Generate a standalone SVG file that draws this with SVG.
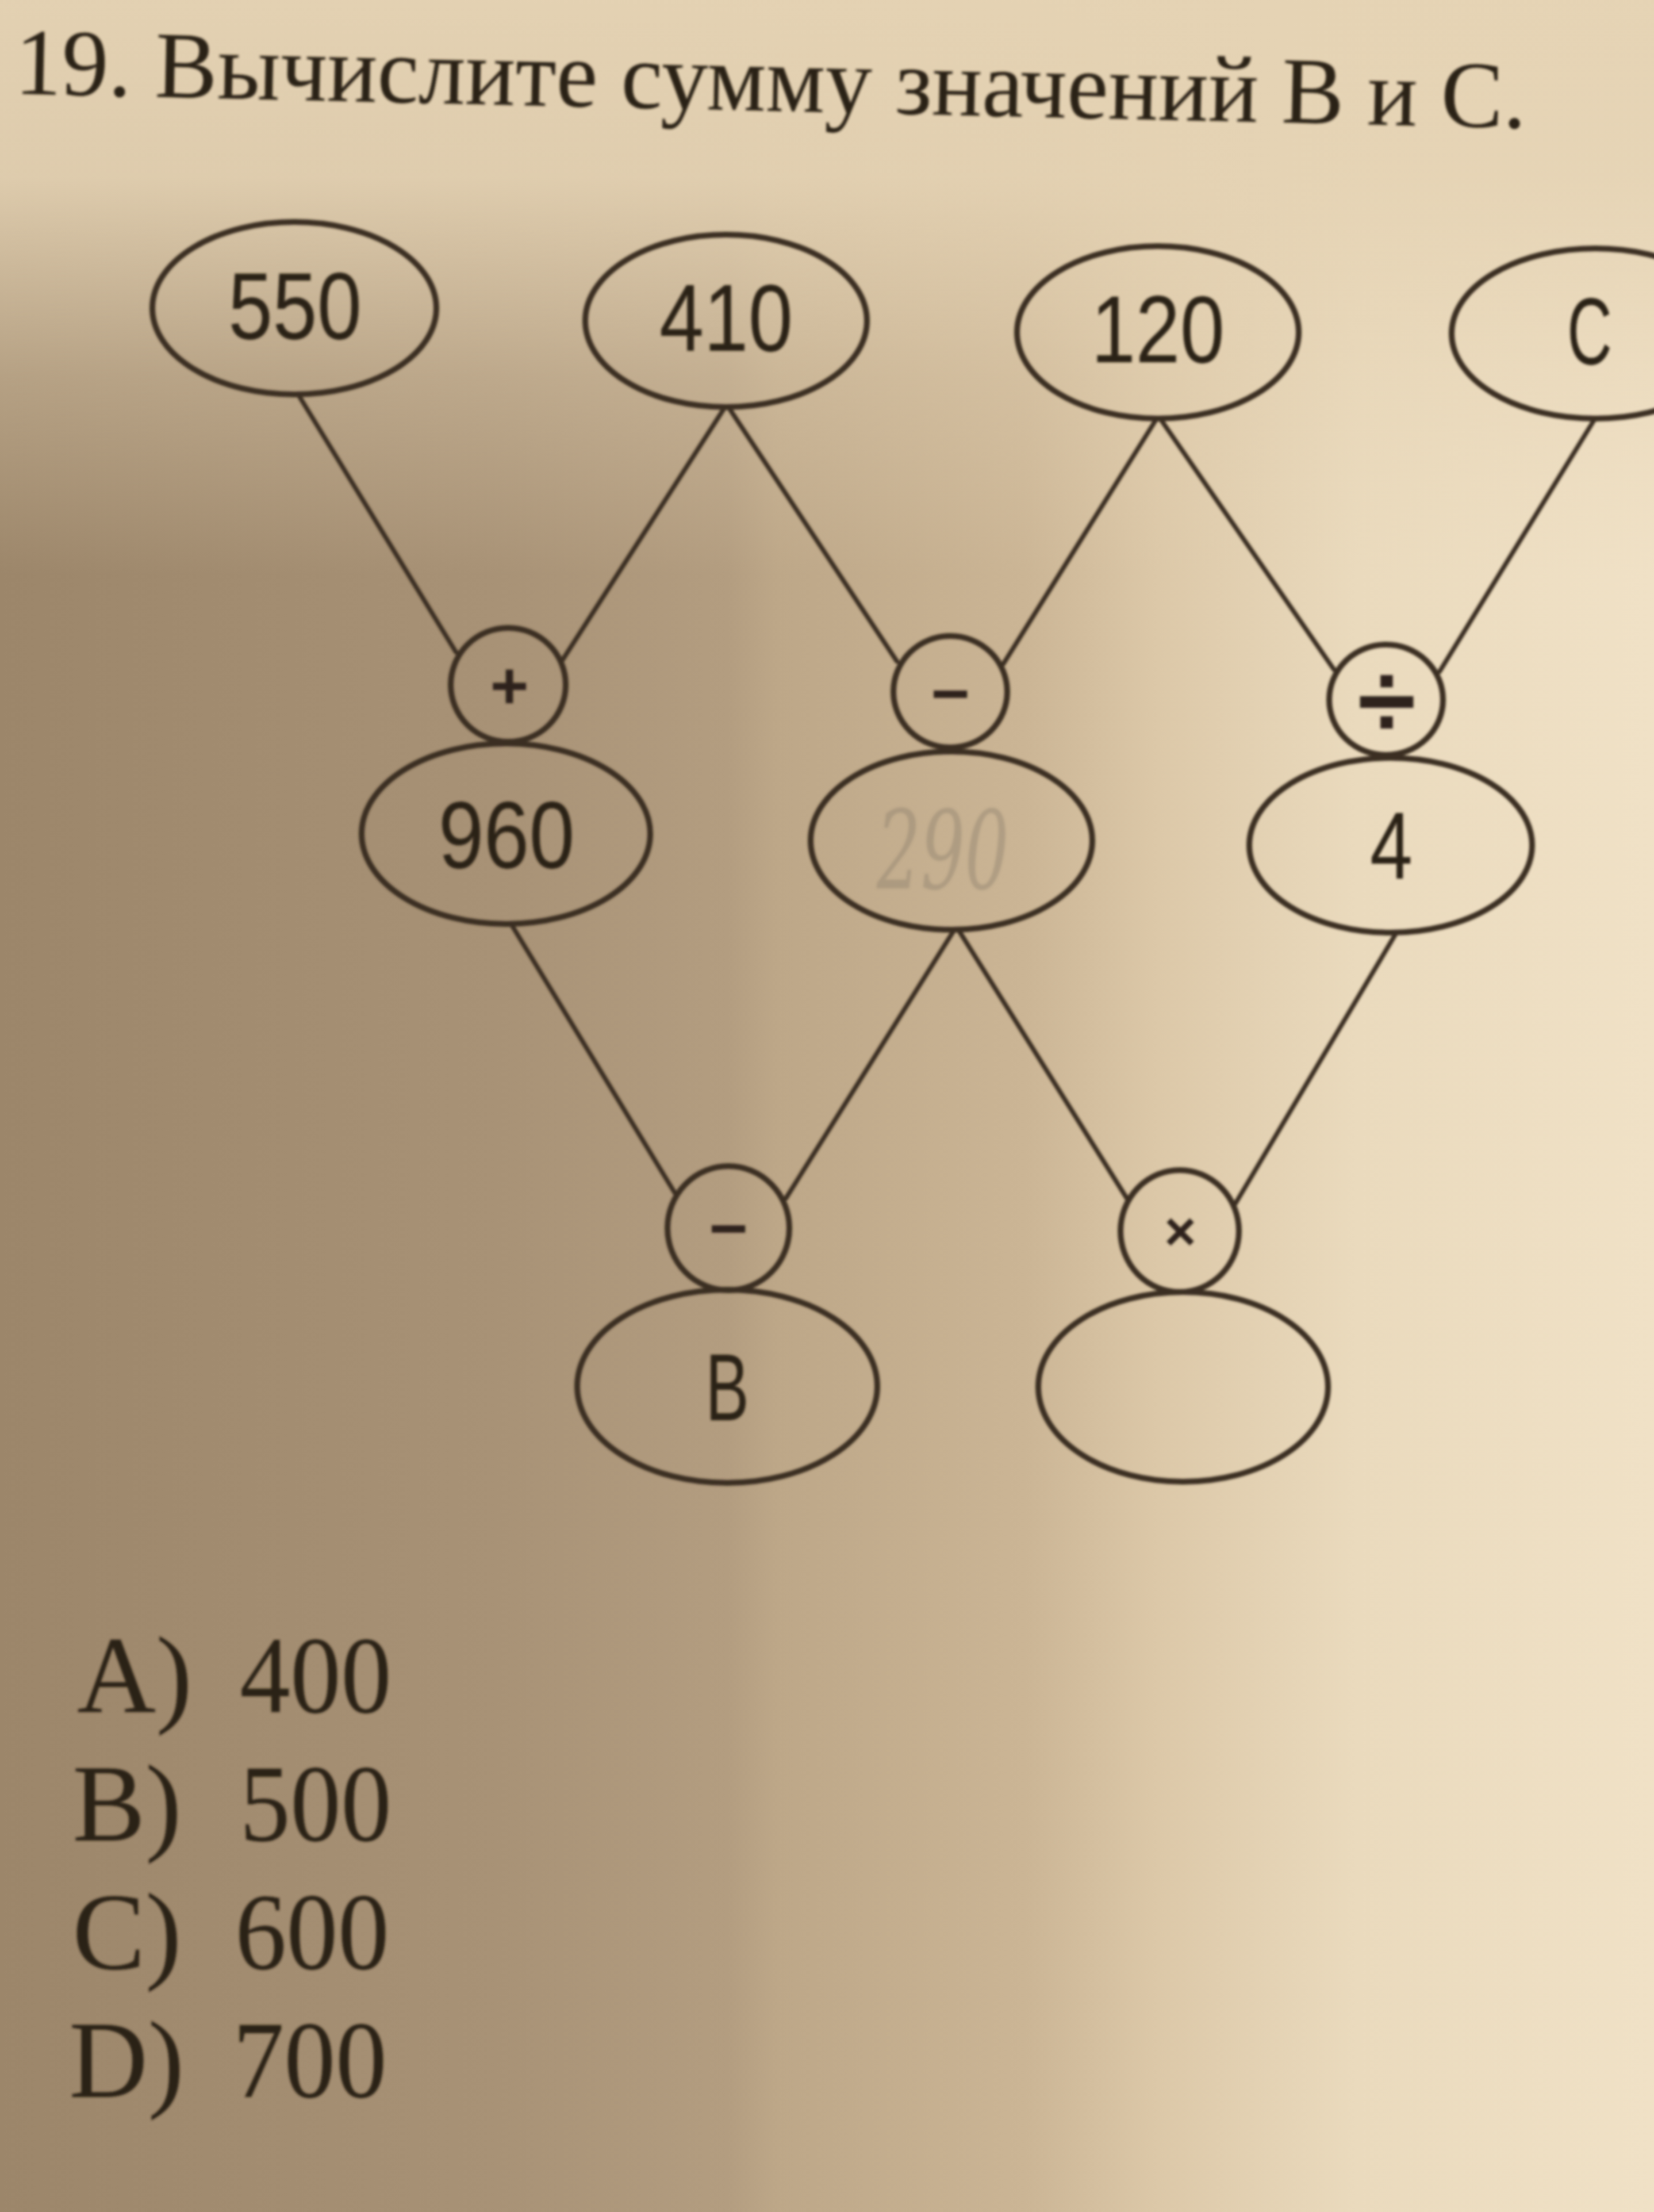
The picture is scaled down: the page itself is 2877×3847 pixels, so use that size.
<svg xmlns="http://www.w3.org/2000/svg" width="2877" height="3847" viewBox="0 0 2877 3847">
<defs>
<linearGradient id="paperH" x1="0" y1="0" x2="1" y2="0">
<stop offset="0" stop-color="#9c866a"/>
<stop offset="0.3" stop-color="#a89276"/>
<stop offset="0.44" stop-color="#b39d80"/>
<stop offset="0.47" stop-color="#bda788"/>
<stop offset="0.62" stop-color="#cbb595"/>
<stop offset="0.7" stop-color="#dcc8a8"/>
<stop offset="0.82" stop-color="#eadabd"/>
<stop offset="1" stop-color="#f0e1c6"/>
</linearGradient>
<linearGradient id="paperTop" x1="0" y1="0" x2="0" y2="1">
<stop offset="0" stop-color="#e5d3b4" stop-opacity="0.97"/>
<stop offset="0.08" stop-color="#e5d3b4" stop-opacity="0.9"/>
<stop offset="0.17" stop-color="#e5d3b4" stop-opacity="0.35"/>
<stop offset="0.26" stop-color="#e5d3b4" stop-opacity="0"/>
</linearGradient>
<filter id="soft" x="-5%" y="-5%" width="110%" height="110%">
<feGaussianBlur stdDeviation="2"/>
</filter>
<style>
.node { fill: none; stroke: #3b2e21; stroke-width: 10; }
.edge { stroke: #3b2e21; stroke-width: 8; stroke-linecap: round; fill: none; }
.num { font-family: "Liberation Sans", "DejaVu Sans", sans-serif; font-size: 165px; fill: #2a2017; text-anchor: middle; }
.op { font-family: "Liberation Sans", "DejaVu Sans", sans-serif; font-weight: bold; fill: #2e241a; text-anchor: middle; }
.serif { font-family: "Liberation Serif", "Noto Sans CJK SC", serif; fill: #2a2017; }
.hand { font-family: "DejaVu Serif", serif; font-style: italic; font-size: 190px; fill: #8a7d6c; fill-opacity: 0.4; text-anchor: middle; }
</style>
</defs>
<rect x="0" y="0" width="2877" height="3847" fill="url(#paperH)"/>
<rect x="0" y="0" width="2877" height="3847" fill="url(#paperTop)"/>

<g filter="url(#soft)">
<text id="title" class="serif" x="25" y="163" font-size="165" textLength="2630" lengthAdjust="spacingAndGlyphs" transform="rotate(1.3 25 163)">19. Вычислите сумму значений B и C.</text>

<g id="connectors">
<line class="edge" x1="518" y1="685" x2="793" y2="1134"/>
<line class="edge" x1="1261" y1="708" x2="979" y2="1147"/>
<line class="edge" x1="1267" y1="708" x2="1560" y2="1150"/>
<line class="edge" x1="2012" y1="728" x2="1745" y2="1155"/>
<line class="edge" x1="2018" y1="728" x2="2320" y2="1164"/>
<line class="edge" x1="2775" y1="727" x2="2504" y2="1168"/>
<line class="edge" x1="889" y1="1607" x2="1174" y2="2075"/>
<line class="edge" x1="1660" y1="1617" x2="1367" y2="2084"/>
<line class="edge" x1="1667" y1="1617" x2="1960" y2="2084"/>
<line class="edge" x1="2429" y1="1622" x2="2149" y2="2093"/>
</g>

<g id="n550"><ellipse class="node" cx="512" cy="536" rx="247" ry="150"/><text class="num" x="513" y="589" textLength="232" lengthAdjust="spacingAndGlyphs">550</text></g>
<g id="n410"><ellipse class="node" cx="1263" cy="558" rx="245" ry="150"/><text class="num" x="1263" y="610" textLength="232" lengthAdjust="spacingAndGlyphs">410</text></g>
<g id="n120"><ellipse class="node" cx="2014" cy="578" rx="245" ry="150"/><text class="num" x="2014" y="630" textLength="232" lengthAdjust="spacingAndGlyphs">120</text></g>
<g id="nC"><ellipse class="node" cx="2775" cy="580" rx="250" ry="148"/><text class="num" x="2765" y="633" textLength="78" lengthAdjust="spacingAndGlyphs">C</text></g>

<g id="opPlus"><ellipse class="node" cx="884" cy="1191" rx="100" ry="99"/><text class="op" x="886" y="1232" font-size="115">+</text></g>
<g id="opMinus1"><ellipse class="node" cx="1653" cy="1203" rx="99" ry="97"/><text class="op" x="1653" y="1246" font-size="116">−</text></g>
<g id="opDiv"><ellipse class="node" cx="2411" cy="1217" rx="99" ry="96"/><text class="op" x="2412" y="1282" font-size="185">÷</text></g>

<g id="n960"><ellipse class="node" cx="880" cy="1450" rx="251" ry="157"/><text class="num" x="881" y="1509" textLength="237" lengthAdjust="spacingAndGlyphs">960</text></g>
<g id="n290"><ellipse class="node" cx="1655" cy="1462" rx="245" ry="155"/><text class="hand" x="1640" y="1545" textLength="230" lengthAdjust="spacingAndGlyphs">290</text></g>
<g id="n4"><ellipse class="node" cx="2419" cy="1470" rx="246" ry="152"/><text class="num" x="2420" y="1528" textLength="74" lengthAdjust="spacingAndGlyphs">4</text></g>

<g id="opMinus2"><ellipse class="node" cx="1267" cy="2136" rx="106" ry="108"/><text class="op" x="1267" y="2176" font-size="116">−</text></g>
<g id="opTimes"><ellipse class="node" cx="2052" cy="2141" rx="103" ry="106"/><text class="op" x="2053" y="2174" font-size="95">×</text></g>

<g id="nB"><ellipse class="node" cx="1265" cy="2411" rx="261" ry="168"/><text class="num" x="1265" y="2470" textLength="76" lengthAdjust="spacingAndGlyphs">B</text></g>
<g id="nEmpty"><ellipse class="node" cx="2058" cy="2412" rx="252" ry="165"/></g>

<g id="answers">
<text class="serif" x="134" y="2978" font-size="190">A)<tspan x="417" textLength="264" lengthAdjust="spacingAndGlyphs">400</tspan></text>
<text class="serif" x="126" y="3201" font-size="190">B)<tspan x="417" textLength="264" lengthAdjust="spacingAndGlyphs">500</tspan></text>
<text class="serif" x="126" y="3424" font-size="190">C)<tspan x="409" textLength="268" lengthAdjust="spacingAndGlyphs">600</tspan></text>
<text class="serif" x="120" y="3647" font-size="190">D)<tspan x="405" textLength="268" lengthAdjust="spacingAndGlyphs">700</tspan></text>
</g>
</g>
</svg>
